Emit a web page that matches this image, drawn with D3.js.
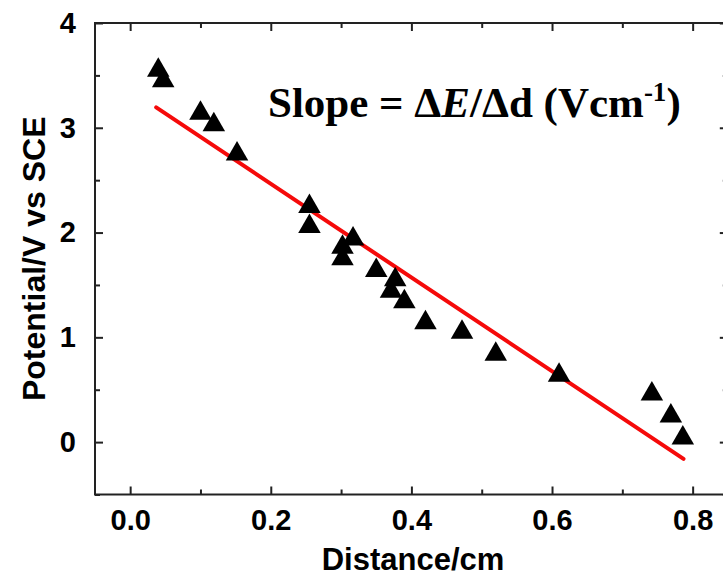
<!DOCTYPE html>
<html>
<head>
<meta charset="utf-8">
<script src="https://cdn.jsdelivr.net/npm/d3@7"></script>
<style>
  html, body { margin: 0; padding: 0; background: #fff; }
  svg { display: block; }
</style>
</head>
<body>
<script>
// ---- data ----
const distance = [0.040, 0.047, 0.100, 0.119, 0.152, 0.255, 0.255, 0.302, 0.302, 0.317, 0.350, 0.371, 0.377, 0.390, 0.420, 0.472, 0.520, 0.610, 0.742, 0.769, 0.786];
const potential = [3.58, 3.48, 3.17, 3.06, 2.78, 2.28, 2.09, 1.89, 1.78, 1.97, 1.67, 1.47, 1.58, 1.37, 1.17, 1.08, 0.87, 0.67, 0.49, 0.28, 0.07];
const fitX = [0.037, 0.787];
const fitY = [3.195, -0.16];
const xTicks = [0.0, 0.2, 0.4, 0.6, 0.8];
const xMinor = [0.1, 0.3, 0.5, 0.7];
const yTicks = [0, 1, 2, 3, 4];
const yMinor = [-0.5, 0.5, 1.5, 2.5, 3.5];
const xTitle = "Distance/cm";
const yTitle = "Potential/V vs SCE";

(function () {
const W = 723, H = 577;
const mLeft = 95, mRight = 727.8, mTop = 23, mBottom = 494.5;

const svg = d3.select("body").append("svg").attr("width", W).attr("height", H);

const x = d3.scaleLinear().domain([-0.05, 0.85]).range([mLeft, mRight]);
const y = d3.scaleLinear().domain([-0.5, 4]).range([mBottom, mTop]);

const axisColor = "#222";
const major = 8, minor = 5;

function styleAxis(g) {
  g.select(".domain").remove();
  g.selectAll(".tick line").attr("stroke", axisColor).attr("stroke-width", 2);
}
const labelFont = "'Liberation Sans', Arial, sans-serif";

// bottom axis
const gB = svg.append("g").attr("transform", `translate(0,${mBottom})`)
  .call(d3.axisBottom(x).tickValues(xTicks).tickFormat(d3.format(".1f")).tickSizeInner(-major).tickPadding(15));
styleAxis(gB);
gB.selectAll("text").attr("font-family", labelFont).attr("font-weight", "bold").attr("font-size", 29).attr("fill", "#000");
svg.append("g").attr("transform", `translate(0,${mBottom})`)
  .call(d3.axisBottom(x).tickValues(xMinor).tickFormat("").tickSizeInner(-minor)).call(styleAxis);
// top axis
svg.append("g").attr("transform", `translate(0,${mTop})`)
  .call(d3.axisTop(x).tickValues(xTicks).tickFormat("").tickSizeInner(-major)).call(styleAxis);
svg.append("g").attr("transform", `translate(0,${mTop})`)
  .call(d3.axisTop(x).tickValues(xMinor).tickFormat("").tickSizeInner(-minor)).call(styleAxis);
// left axis
const gL = svg.append("g").attr("transform", `translate(${mLeft},0)`)
  .call(d3.axisLeft(y).tickValues(yTicks).tickFormat(d3.format("d")).tickSizeInner(-major).tickPadding(19));
styleAxis(gL);
gL.selectAll("text").attr("font-family", labelFont).attr("font-weight", "bold").attr("font-size", 29).attr("fill", "#000");
svg.append("g").attr("transform", `translate(${mLeft},0)`)
  .call(d3.axisLeft(y).tickValues(yMinor).tickFormat("").tickSizeInner(-minor)).call(styleAxis);
// right axis
svg.append("g").attr("transform", `translate(${mRight},0)`)
  .call(d3.axisRight(y).tickValues(yTicks).tickFormat("").tickSizeInner(-major)).call(styleAxis);
svg.append("g").attr("transform", `translate(${mRight},0)`)
  .call(d3.axisRight(y).tickValues(yMinor).tickFormat("").tickSizeInner(-minor)).call(styleAxis);

// frame
svg.append("rect").attr("x", mLeft).attr("y", mTop).attr("width", mRight - mLeft).attr("height", mBottom - mTop)
  .attr("fill", "none").attr("stroke", axisColor).attr("stroke-width", 2);

// annotation background box
svg.append("rect").attr("x", 255).attr("y", 68).attr("width", 440).attr("height", 64).attr("fill", "#fff");

// fit line
svg.append("line")
  .attr("x1", x(fitX[0])).attr("y1", y(fitY[0]))
  .attr("x2", x(fitX[1])).attr("y2", y(fitY[1]))
  .attr("stroke", "#f50a0a").attr("stroke-width", 4).attr("stroke-linecap", "round");

// triangles
const s = 22.5, h = 19.5;
const tri = `M0,${-h/2}L${s/2},${h/2}L${-s/2},${h/2}Z`;
svg.append("g").selectAll("path").data(distance.map((d, i) => [d, potential[i]])).join("path")
  .attr("d", tri)
  .attr("transform", d => `translate(${x(d[0])},${y(d[1])})`)
  .attr("fill", "#000");

// annotation text
const ann = svg.append("text").attr("x", 268).attr("y", 117)
  .attr("font-family", "'Liberation Serif', 'Times New Roman', serif")
  .attr("font-weight", "bold").attr("font-size", 43).attr("fill", "#000");
ann.append("tspan").text("Slope = \u0394");
ann.append("tspan").attr("font-style", "italic").text("E");
ann.append("tspan").text("/\u0394d (Vcm");
ann.append("tspan").attr("font-size", 27).attr("dy", -16).text("-1");
ann.append("tspan").attr("dy", 16).text(")");

// axis titles
svg.append("text").attr("x", 413).attr("y", 570)
  .attr("text-anchor", "middle")
  .attr("font-family", labelFont).attr("font-weight", "bold").attr("font-size", 31).attr("fill", "#000")
  .text(xTitle);
svg.append("text").attr("transform", `translate(45,${(mTop + mBottom) / 2}) rotate(-90)`)
  .attr("text-anchor", "middle")
  .attr("font-family", labelFont).attr("font-weight", "bold").attr("font-size", 32).attr("fill", "#000")
  .text(yTitle);
})();
</script>
</body>
</html>
